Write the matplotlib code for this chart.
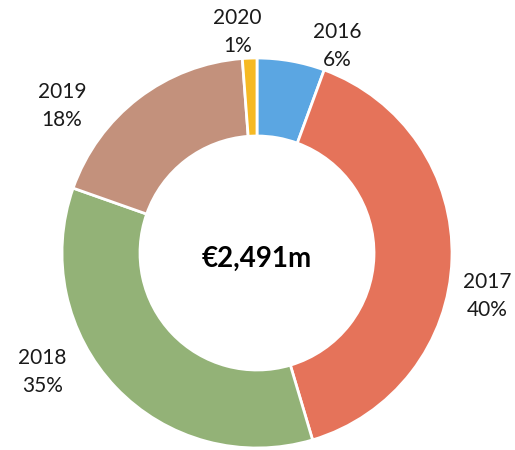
import matplotlib
matplotlib.use("Agg")
import matplotlib.pyplot as plt

plt.rcParams['font.family'] = ['Lato', 'DejaVu Sans']

years = ["2016", "2017", "2018", "2019", "2020"]
shares = [5.6, 39.8, 35.0, 18.4, 1.2]
colors = ["#5BA6E2", "#E5735A", "#93B277", "#C3917C", "#F6B923"]
total_label = "€2,491m"

# label centres in axes data units (pie radius = 1)
label_pos = {
    "2016": (0.41, 1.06),
    "2017": (1.18, -0.22),
    "2018": (-1.10, -0.61),
    "2019": (-1.00, 0.755),
    "2020": (-0.10, 1.135),
}

W, H = 515, 450
cx, cy, R = 257, 253, 195

fig = plt.figure(figsize=(W / 100, H / 100), dpi=100)
ax = fig.add_axes([(cx - R) / W, (H - cy - R) / H, 2 * R / W, 2 * R / H])

ax.pie(shares, colors=colors, startangle=90, counterclock=False, radius=1,
       wedgeprops=dict(width=0.4, edgecolor="white", linewidth=2))
ax.set_xlim(-1, 1)
ax.set_ylim(-1, 1)
ax.set_aspect("auto")
ax.axis("off")

for y, s in zip(years, shares):
    x0, y0 = label_pos[y]
    ax.text(x0, y0, f"{y}\n{s:.0f}%", ha="center", va="center",
            fontsize=15, linespacing=1.5, color="#1a1a1a")

ax.text(0, -0.03, total_label, ha="center", va="center", fontsize=20,
        fontweight="bold", color="black")

fig.savefig("out.png", dpi=100)
